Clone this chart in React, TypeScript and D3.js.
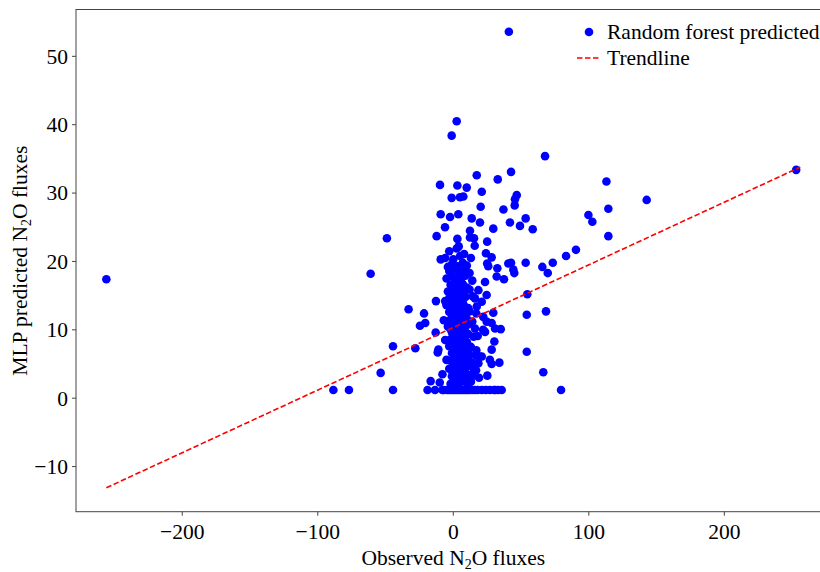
import React from 'react'
import * as d3 from 'd3'

const outerPoints: [number, number][] = [
  [-256, 17.4], [253, 33.4], [41, 53.6], [-88.5, 1.2], [-77, 1.2], [-44.5, 1.2], [79.5, 1.2],
  [-61, 18.2], [-49, 23.4], [-53.6, 3.7], [-44.5, 7.6], [-33, 13], [-28, 7.3], [-21.6, 12.4],
  [-24.6, 10.6], [-20.7, 11], [-16.7, 2.5], [-19, 1.2], [-13.5, 1.2], [-13, 9.6], [-12.8, 14.2],
  [-11, 7.1], [-11.5, 6.7], [66.4, 3.8], [68.4, 12.7], [54.2, 12.2], [54.2, 6.8], [54.6, 15.2],
]

const upperPoints: [number, number][] = [
  [2.5, 40.5], [-1.2, 38.4], [67.7, 35.4], [17.3, 32.6], [42.6, 33.1], [32.8, 32], [-9.8, 31.2],
  [3, 31.1], [9.9, 30.8], [21, 30.2], [46.8, 29.7], [45.5, 29.1], [-1.2, 29.3], [4.9, 29.4],
  [7.4, 29.5], [20.2, 28], [45.3, 28.2], [37, 27.6], [-9.3, 26.9], [-2.4, 26.5], [3.7, 26.9],
  [13.6, 26.3], [19.7, 25.7], [41.8, 25.7], [53.4, 26.3], [49.2, 25.2], [58.6, 24.7],
  [-6.1, 25], [12.3, 24.5], [29.5, 24.8], [-12.3, 23.7], [3, 23.3], [12.3, 23.5], [15.3, 23.4],
  [15.8, 22.3], [25, 22.9], [2.5, 21.9], [-9.3, 20.3], [113, 31.7], [142.7, 29], [114.4, 27.7],
  [99.7, 26.8], [102.6, 25.8], [114.4, 23.7], [90.5, 21.7], [83.2, 20.8],
]

const rightPoints: [number, number][] = [
  [24.1, 21.2], [28.3, 20.6], [25, 19.7], [25.8, 19.3], [42.6, 19.8], [44.3, 18.8], [45, 18.3],
  [53.4, 19.8], [65.7, 19.2], [73.4, 19.8], [69.7, 18.3], [32.5, 19], [32, 17.8], [37.4, 17.4],
  [40.6, 19.7], [23.4, 17], [24.6, 15.1], [29.5, 12.5], [22.1, 11.9], [24.6, 11.2], [28.3, 11],
  [30.8, 10.2], [35, 10.1], [23.4, 9.7], [22, 10], [30.3, 8.3], [28.3, 7.1], [21, 6.1], [27, 5.6],
  [28.3, 5], [34, 5.2], [25.1, 3.3], [17, 7], [19.7, 6.1], [18.5, 5.1], [16.8, 4.1], [21, 14.1],
  [17.3, 13.4], [18.5, 15.8], [14.3, 14.9], [21, 1.2], [24, 1.2], [27, 1.2], [30, 1.2], [33, 1.2],
  [35.7, 1.2], [31, 1.2],
]

const corePoints: [number, number][] = [
  [-4.5, 1.2], [-3, 1.2], [-1.5, 1.2], [0, 1.2], [1.5, 1.2], [3, 1.2], [4.5, 1.2], [6, 1.2],
  [7.5, 1.2], [9, 1.2], [10.5, 1.2], [12, 1.2], [14, 1.2], [16, 1.2], [18, 1.2], [-7, 1.2],
  [-8, 1.2], [-10, 2.3], [-2, 2.1], [1, 2.4], [4, 2.0], [7, 2.6], [10, 2.2], [13, 3.0], [-1, 3.2],
  [2, 3.5], [5, 3.1], [8, 3.8], [11, 3.4], [15, 3.6], [-3, 4.3], [0, 4.6], [3, 4.1], [6, 4.9],
  [9, 4.4], [12, 4.7], [-2, 5.5], [1, 5.8], [4, 5.3], [7, 5.9], [10, 5.6], [14, 5.2], [-1, 6.6],
  [2, 6.9], [5, 6.4], [8, 6.7], [12, 6.3], [-3, 7.6], [0, 7.9], [3, 7.4], [6, 7.7], [9, 8.0],
  [13, 7.5], [-2, 8.6], [1, 8.9], [4, 8.4], [7, 8.7], [10, 8.2], [-1, 9.6], [2, 9.9], [5, 9.3],
  [8, 9.7], [11, 9.4], [15, 9.0], [-4, 10.5], [0, 10.8], [3, 10.3], [6, 10.7], [9, 10.4],
  [12, 10.9], [-2, 11.5], [1, 11.8], [4, 11.3], [7, 11.9], [10, 11.6], [14, 11.2], [-3, 12.6],
  [0, 12.9], [3, 12.4], [6, 12.8], [9, 12.3], [12, 12.7], [-5, 13.6], [-1, 13.9], [2, 13.4],
  [5, 13.8], [8, 13.5], [11, 13.2], [-3, 14.6], [0, 14.9], [3, 14.5], [6, 14.2], [9, 14.8],
  [-4, 15.6], [-1, 15.9], [2, 15.4], [5, 15.7], [8, 15.3], [12, 15.9], [-2, 16.6], [1, 16.9],
  [4, 16.4], [7, 16.7], [10, 16.2], [-5, 17.5], [-1, 17.8], [2, 17.3], [6, 17.6], [9, 17.9],
  [14, 17.2], [-3, 18.6], [1, 18.9], [4, 18.4], [8, 18.7], [12, 18.3], [-1, 19.6], [3, 19.3],
  [7, 19.8], [10, 19.4], [0, 20.3], [5, 20.8], [13, 20.5], [-6, 14.2], [-7, 11.4], [-6, 8.5],
  [-5, 5.6], [-8, 3.5], [16, 14.6], [17, 12.4], [16, 10.2], [18, 9.1], [17, 6.2], [15, 4.3],
  [19, 3.0], [13, 2.4], [-3, 21.5], [4, 22.2], [8, 21.1], [-6, 20.5], [-4, 19.2], [6, 3.4],
  [-2, 10.1], [2, 12.1], [5, 15.0], [11, 7.1], [3, 6.0], [-1, 4.0], [7, 14.0], [9, 6.0],
]

const trendX = [-256, 256]
const trendY = [-13.1, 33.8]

const xTicks = [-200, -100, 0, 100, 200]
const yTicks = [-10, 0, 10, 20, 30, 40, 50]

const legendItems = ['Random forest predicted', 'Trendline']

const W = 820
const H = 572
const left = 76
const top = 9.5
const bottom = 511.7
const right = 830.6
const font = '"Liberation Serif", "Times New Roman", serif'
const fs = 21.5

const fmt = (v: number) => (v < 0 ? '\u2212' + Math.abs(v) : String(v))

export default function App() {
  const x = d3.scaleLinear().domain([-278.4, 278.4]).range([left, right])
  const y = d3.scaleLinear().domain([-16.6, 56.85]).range([bottom, top])

  const allPoints = [...outerPoints, ...upperPoints, ...rightPoints, ...corePoints]
  const trend = d3.line<number>()
    .x((d) => x(d))
    .y((_, i) => y(trendY[i]))(trendX)

  return (
    <svg width={W} height={H} style={{ position: 'fixed', left: 0, top: 0, background: '#fff' }}
      fontFamily={font}>
      <defs>
        <clipPath id="plot">
          <rect x={left} y={top} width={right - left} height={bottom - top} />
        </clipPath>
      </defs>

      <g clipPath="url(#plot)">
        {allPoints.map((p, i) => (
          <circle key={i} cx={x(p[0])} cy={y(p[1])} r={4.3} fill="#0000ff" />
        ))}
        <path d={trend ?? ''} fill="none" stroke="#ff0000" strokeWidth={1.6} strokeDasharray="5.5,2.5" />
      </g>

      {/* spines */}
      <rect x={left} y={top} width={right - left} height={bottom - top} fill="none" stroke="#444" strokeWidth={1} />

      {xTicks.map((t) => (
        <g key={t} transform={`translate(${x(t)},${bottom})`}>
          <line y2={4} stroke="#444" />
          <text y={27} textAnchor="middle" fontSize={fs}>{fmt(t)}</text>
        </g>
      ))}
      {yTicks.map((t) => (
        <g key={t} transform={`translate(${left},${y(t)})`}>
          <line x2={-4} stroke="#444" />
          <text x={-8} dy="0.34em" textAnchor="end" fontSize={fs}>{fmt(t)}</text>
        </g>
      ))}

      <text x={x(0)} y={565} textAnchor="middle" fontSize={fs}>
        Observed N<tspan fontSize={14} dy={4}>2</tspan><tspan dy={-4}>O fluxes</tspan>
      </text>
      <text transform={`translate(27,${(top + bottom) / 2}) rotate(-90)`} textAnchor="middle" fontSize={fs}>
        MLP predicted N<tspan fontSize={14} dy={4}>2</tspan><tspan dy={-4}>O fluxes</tspan>
      </text>

      {/* legend */}
      <g>
        <circle cx={589} cy={32} r={4.3} fill="#0000ff" />
        <text x={607} y={32} dy="0.34em" fontSize={fs}>{legendItems[0]}</text>
        <line x1={577} x2={601} y1={58} y2={58} stroke="#ff0000" strokeWidth={1.6} strokeDasharray="5.5,2.5" />
        <text x={607} y={58} dy="0.34em" fontSize={fs}>{legendItems[1]}</text>
      </g>
    </svg>
  )
}
